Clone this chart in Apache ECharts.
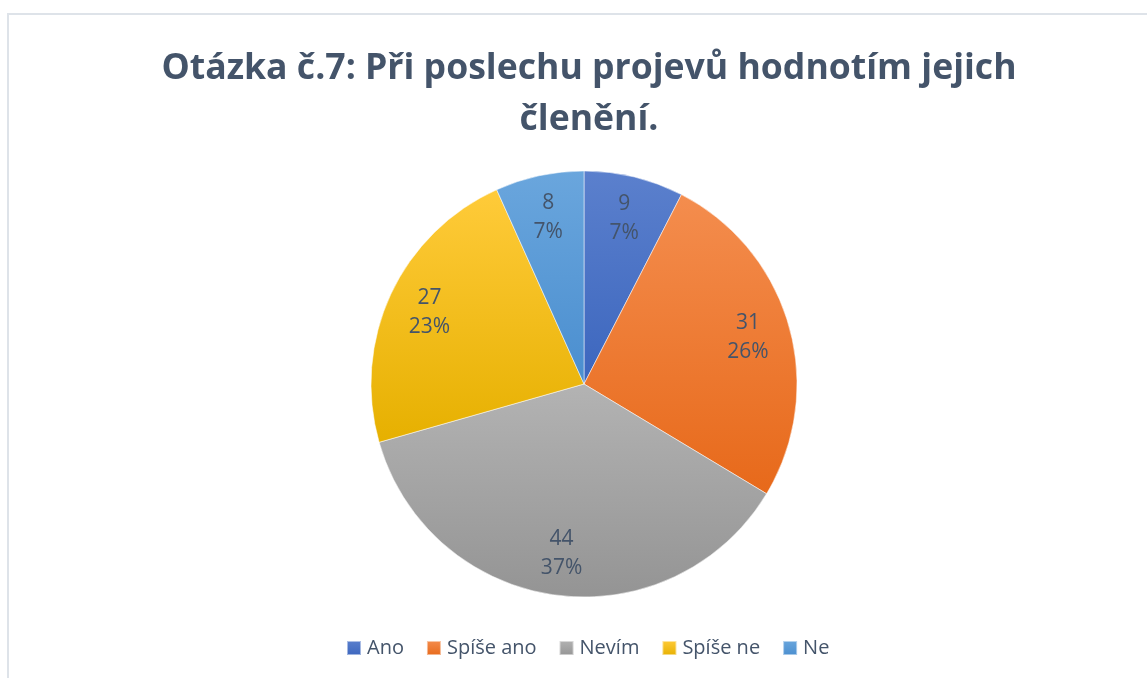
<!DOCTYPE html>
<html>
<head>
<meta charset="utf-8">
<script src="https://cdn.jsdelivr.net/npm/echarts@6/dist/echarts.min.js"></script>
<style>
  html, body { margin: 0; padding: 0; background: #fff; }
  #chart { width: 1147px; height: 678px; }
</style>
</head>
<body>
<div id="chart"></div>
<script>
const categories = ['Ano', 'Spíše ano', 'Nevím', 'Spíše ne', 'Ne']
const values = [9, 31, 44, 27, 8]
const colorTop = ['#5B80CD', '#F48D4E', '#B3B3B3', '#FFCB3A', '#6AA6DD']
const colorBottom = ['#3C66BE', '#E7691A', '#949494', '#E6B000', '#4A8ECF']

const textColor = '#44546A'
const font = "'Open Sans', 'DejaVu Sans', sans-serif"

const chart = echarts.init(document.getElementById('chart'))

const pieData = categories.map((name, i) => ({
  name,
  value: values[i],
  itemStyle: {
    color: new echarts.graphic.LinearGradient(0, 0, 0, 1, [
      { offset: 0, color: colorTop[i] },
      { offset: 1, color: colorBottom[i] }
    ])
  }
}))

const labelData = categories.map((name, i) => ({ name, value: values[i] }))

const option = {
  animation: false,
  backgroundColor: '#fff',
  title: {
    text: 'Otázka č.7: Při poslechu projevů hodnotím jejich\nčlenění.',
    left: 584,
    top: 38,
    textAlign: 'center',
    textStyle: {
      fontFamily: font,
      fontSize: 35.6,
      fontWeight: 'bold',
      color: textColor,
      lineHeight: 51
    }
  },
  legend: {
    bottom: 15,
    left: 341,
    data: categories,
    icon: 'rect',
    itemWidth: 14,
    itemHeight: 14,
    itemGap: 22,
    textStyle: { fontFamily: font, fontSize: 20, color: textColor, padding: [0, 0, 0, 1] }
  },
  graphic: [{
    type: 'rect',
    silent: true,
    shape: { x: 8, y: 14, width: 1170, height: 720 },
    style: { fill: 'none', stroke: '#DEE3E9', lineWidth: 2 }
  }],
  series: [
    {
      type: 'pie',
      center: [584, 384],
      radius: [0, 213],
      startAngle: 90,
      clockwise: true,
      label: { show: false },
      labelLine: { show: false },
      emphasis: { disabled: true },
      itemStyle: { borderColor: 'rgba(255,255,255,0.5)', borderWidth: 1 },
      data: pieData
    },
    {
      type: 'pie',
      center: [584, 384],
      radius: [122, 213],
      startAngle: 90,
      clockwise: true,
      silent: true,
      percentPrecision: 0,
      legendHoverLink: false,
      itemStyle: { color: 'rgba(0,0,0,0)' },
      emphasis: { disabled: true },
      labelLine: { show: false },
      label: {
        show: true,
        position: 'inside',
        formatter: '{c}\n{d}%',
        fontFamily: font,
        fontSize: 21,
        lineHeight: 29,
        color: textColor
      },
      data: labelData
    }
  ]
}

chart.setOption(option)
</script>
</body>
</html>
